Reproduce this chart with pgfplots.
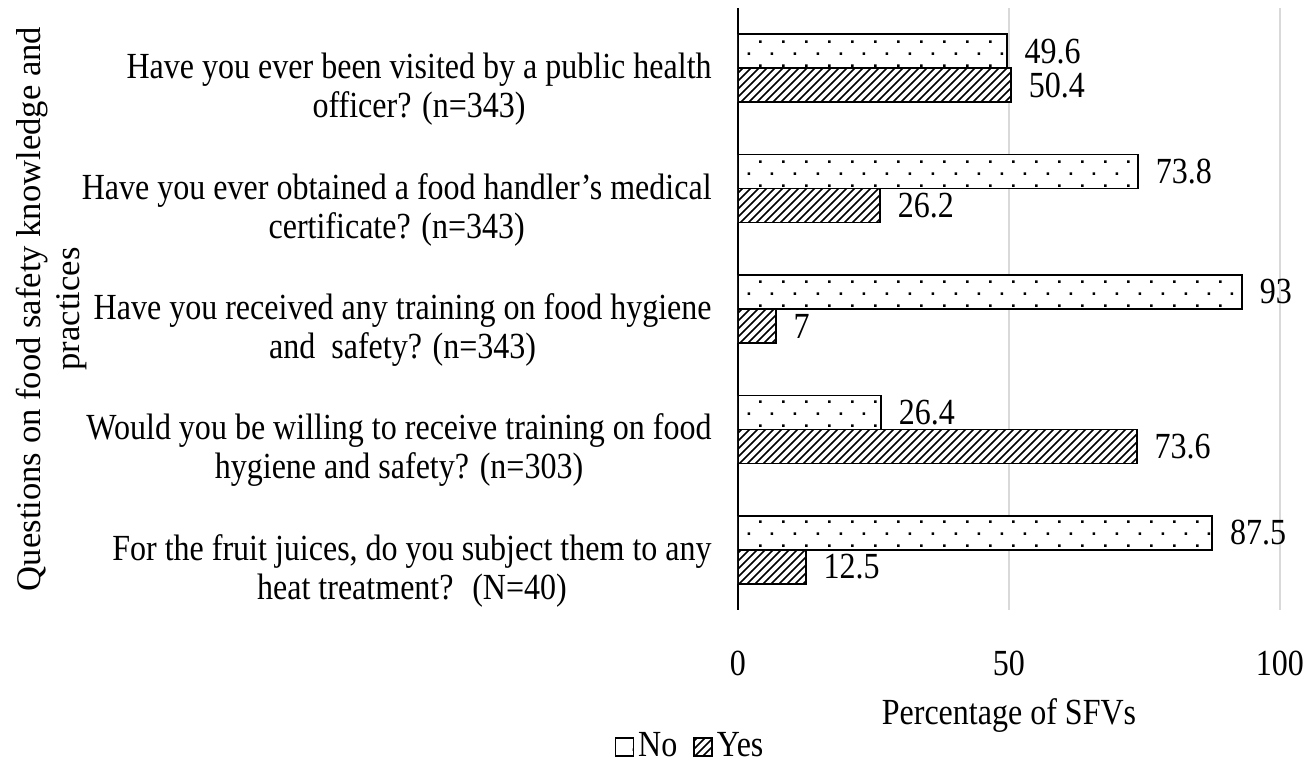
\documentclass[border=0pt]{standalone}
\usepackage{fontspec}
\setmainfont{Liberation Serif}[FakeStretch=0.87]
\newfontfamily\plainfont{Liberation Serif}
\usepackage{pgfplots}
\pgfplotsset{compat=1.18}
\usetikzlibrary{patterns}

\pgfdeclarepatternformonly{sparsedots}{\pgfqpoint{-1pt}{-1pt}}{\pgfqpoint{12.5pt}{13pt}}{\pgfqpoint{11.5pt}{12pt}}{%
 \pgfpathrectangle{\pgfqpoint{0pt}{0pt}}{\pgfqpoint{1.3pt}{1.3pt}}%
 \pgfpathrectangle{\pgfqpoint{5.75pt}{6pt}}{\pgfqpoint{1.3pt}{1.3pt}}%
 \pgfusepath{fill}}
\pgfdeclarepatternformonly{hatch}{\pgfqpoint{-1pt}{-1pt}}{\pgfqpoint{5pt}{5pt}}{\pgfqpoint{4pt}{4pt}}{%
 \pgfsetlinewidth{0.8pt}%
 \pgfpathmoveto{\pgfqpoint{0pt}{0pt}}\pgfpathlineto{\pgfqpoint{4.1pt}{4.1pt}}\pgfusepath{stroke}}

\pgfplotsset{sqlegend/.style={legend image code/.code={\draw[##1, line width=0.8pt] (0pt,-4.5pt) rectangle (9pt,4.5pt);}}}

\begin{document}
\fontsize{18.4}{19.5}\selectfont
\begin{tikzpicture}
\begin{axis}[name=ax,
  scale only axis, width=271pt, height=301pt,
  xbar=0pt, bar width=17pt,
  xmin=0, xmax=100, ymin=-0.5, ymax=4.5,
  xtick={0,50,100}, ytick={0,1,2,3,4},
  yticklabels={%
    {For the fruit juices, do you subject them to any\\heat treatment?~ (N=40)},
    {Would you be willing to receive training on food\\hygiene and safety? (n=303)},
    {Have you received any training on food hygiene\\and~ safety? (n=343)},
    {Have you ever obtained a food handler’s medical\\certificate? (n=343)},
    {Have you ever been visited by a public health\\officer? (n=343)}},
  major tick length=0pt,
  axis line style={draw=none},
  xmajorgrids, grid style={color=black!15, line width=1pt},
  extra x ticks={0}, extra x tick labels={},
  extra x tick style={grid style={black, line width=0.9pt}},
  /pgf/number format/assume math mode=true,
  yticklabel style={align=center, anchor=east, inner sep=0pt, xshift=-13pt, yshift=-10.5pt},
  xticklabel style={anchor=base, inner sep=0pt, yshift=-33pt},
  xlabel={Percentage of SFVs},
  xlabel style={at={(axis description cs:0.5,-0.191)}, anchor=base, inner sep=0pt},
  ylabel={\plainfont\fontsize{17.3}{20}\selectfont Questions on food safety knowledge and\\\plainfont\fontsize{17.3}{20}\selectfont practices},
  ylabel style={at={(axis description cs:-1.266,0.5)}, anchor=center, align=center, inner sep=0pt},
  nodes near coords,
  nodes near coords style={anchor=west, inner sep=0pt, xshift=8.5pt},
  reverse legend,
  legend columns=2,
  legend style={draw=none, fill=none, at={(axis description cs:-0.0867,-0.2276)}, anchor=center,
    inner sep=0pt, nodes={inner sep=2pt},
    /tikz/every even column/.append style={column sep=6pt}},
]
\addplot[draw=black, line width=0.8pt, fill=white, postaction={pattern=hatch}, sqlegend]
  coordinates {(12.5,0) (73.6,1) (7,2) (26.2,3) (50.4,4)};
\addplot[draw=black, line width=0.8pt, fill=white, postaction={pattern=sparsedots}, sqlegend]
  coordinates {(87.5,0) (26.4,1) (93,2) (73.8,3) (49.6,4)};
\legend{Yes,No}
\end{axis}
\pgfresetboundingbox
\path[use as bounding box] ([shift={(-369pt,-76.5pt)}]ax.south west) rectangle ([shift={(16.5pt,4pt)}]ax.north east);
\end{tikzpicture}
\end{document}
